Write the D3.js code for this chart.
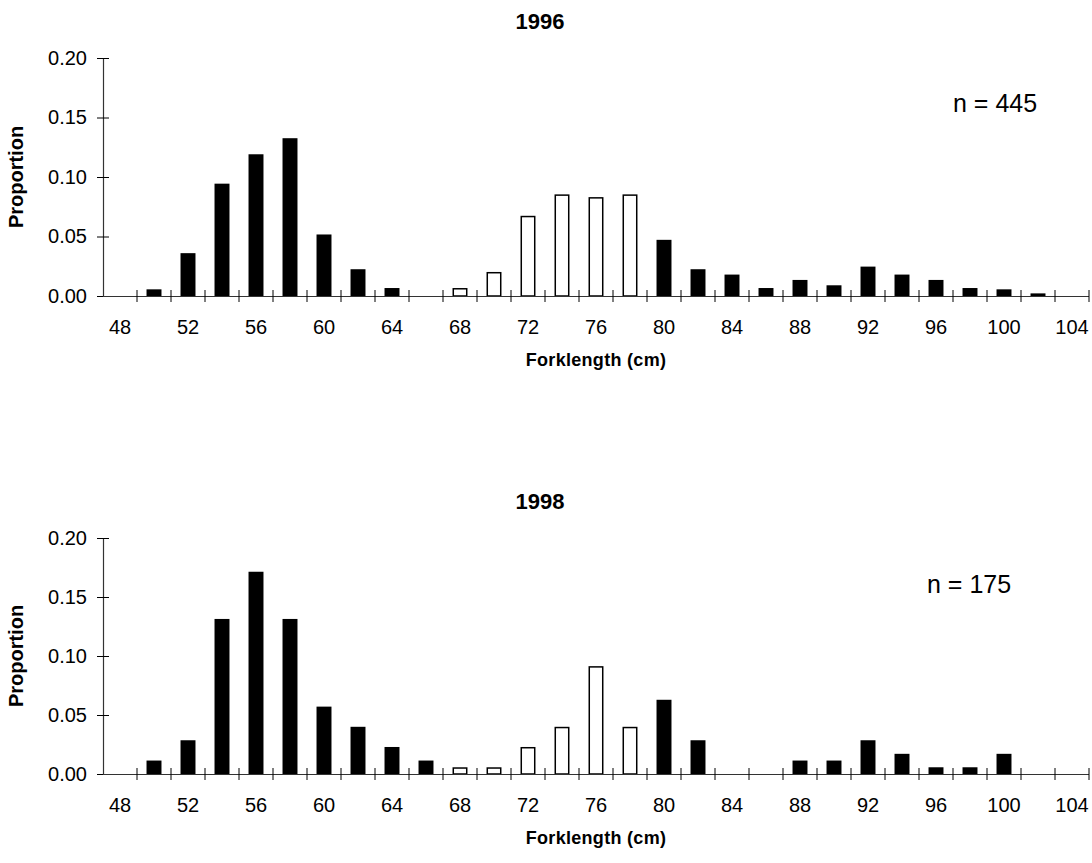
<!DOCTYPE html>
<html>
<head>
<meta charset="utf-8">
<script src="https://cdn.jsdelivr.net/npm/d3@7"></script>
<style>
  html, body { margin: 0; padding: 0; background: #fff; }
  svg { display: block; }
  text { font-family: "Liberation Sans", Arial, sans-serif; fill: #000; }
</style>
</head>
<body>
<svg id="chart" width="1092" height="863"></svg>
<script>
// ---- data ----
const categories = [48,50,52,54,56,58,60,62,64,66,68,70,72,74,76,78,80,82,84,86,88,90,92,94,96,98,100,102,104];
const tickLabels = [48,52,56,60,64,68,72,76,80,84,88,92,96,100,104];
const yTicks = [0, 0.05, 0.10, 0.15, 0.20];
const hollowCategories = [68,70,72,74,76,78];

const values1996 = [0,0.0056,0.036,0.0944,0.1191,0.1326,0.0517,0.0225,0.0067,0,
  0.0067,0.0202,0.0674,0.0854,0.0831,0.0854,0.0472,0.0225,0.018,0.0067,
  0.0135,0.009,0.0247,0.018,0.0135,0.0067,0.0056,0.0022,0];
const values1998 = [0,0.0114,0.0286,0.1314,0.1714,0.1314,0.0571,0.04,0.0229,0.0114,
  0.0057,0.0057,0.0229,0.04,0.0914,0.04,0.0629,0.0286,0,0,
  0.0114,0.0114,0.0286,0.0171,0.0057,0.0057,0.0171,0,0];

const panels = [
  { title: "1996", n: "n = 445", values: values1996, top: 58, bottom: 296, nx: 953, ny: 112 },
  { title: "1998", n: "n = 175", values: values1998, top: 538, bottom: 774, nx: 927, ny: 593 }
];

const svg = d3.select("#chart");
const left = 103, right = 1089;

const x = d3.scaleBand().domain(categories).range([left, right]).paddingInner(0).paddingOuter(0);
const barW = x.bandwidth() * 0.44;

panels.forEach(p => {
  const y = d3.scaleLinear().domain([0, 0.2]).range([p.bottom, p.top]);
  const g = svg.append("g");

  // bars
  const data = categories.map((c, i) => ({ c, v: p.values[i], hollow: hollowCategories.includes(c) }))
    .filter(d => d.v > 0);
  g.selectAll("rect.bar").data(data).enter().append("rect")
    .attr("class", "bar")
    .attr("x", d => x(d.c) + (x.bandwidth() - barW) / 2 + (d.hollow ? 0.75 : 0))
    .attr("width", d => d.hollow ? barW - 1.5 : barW)
    .attr("y", d => y(d.v) + (d.hollow ? 0.75 : 0))
    .attr("height", d => Math.max(0, y(0) - y(d.v) - (d.hollow ? 0.75 : 0)))
    .attr("fill", d => d.hollow ? "#fff" : "#000")
    .attr("stroke", d => d.hollow ? "#000" : "none")
    .attr("stroke-width", 1.5);

  // y axis
  const yAxis = d3.axisLeft(y).tickValues(yTicks).tickFormat(d3.format(".2f")).tickSize(6).tickPadding(10);
  const ya = g.append("g").attr("transform", `translate(${left},0)`).call(yAxis);
  ya.select(".domain").attr("stroke", "#333").attr("stroke-width", 1.2).attr("d", `M0.5,${p.top}V${p.bottom}`);
  ya.selectAll(".tick line").attr("x1", -6).attr("x2", 6).attr("stroke", "#000");
  ya.selectAll(".tick text").attr("font-size", 20).attr("font-family", "Liberation Sans, Arial, sans-serif").attr("fill", "#000");

  // x axis (labels)
  const xAxis = d3.axisBottom(x).tickValues(tickLabels).tickSize(0).tickPadding(24);
  const xa = g.append("g").attr("transform", `translate(0,${p.bottom})`).call(xAxis);
  xa.select(".domain").attr("stroke", "#333").attr("stroke-width", 1.2).attr("d", `M${left},0.5H${right}`);
  xa.selectAll(".tick text").attr("font-size", 20).attr("font-family", "Liberation Sans, Arial, sans-serif").attr("fill", "#000");

  // x boundary ticks (crossing)
  const bounds = categories.map(c => x(c) + x.bandwidth());
  g.selectAll("line.xb").data(bounds).enter().append("line")
    .attr("x1", d => d).attr("x2", d => d)
    .attr("y1", p.bottom - 6).attr("y2", p.bottom + 6)
    .attr("stroke", "#000").attr("stroke-width", 1);

  // titles
  g.append("text").attr("x", 540).attr("y", p.top - 29)
    .attr("text-anchor", "middle").attr("font-weight", "bold").attr("font-size", 22).text(p.title);
  g.append("text").attr("x", (left + right) / 2).attr("y", p.bottom + 70)
    .attr("text-anchor", "middle").attr("font-weight", "bold").attr("font-size", 18)
    .attr("letter-spacing", 0.3).text("Forklength (cm)");
  g.append("text").attr("transform", `translate(23,${(p.top + p.bottom) / 2}) rotate(-90)`)
    .attr("text-anchor", "middle").attr("font-weight", "bold").attr("font-size", 20).text("Proportion");
  g.append("text").attr("x", p.nx).attr("y", p.ny).attr("font-size", 25).text(p.n);
});
</script>
</body>
</html>
